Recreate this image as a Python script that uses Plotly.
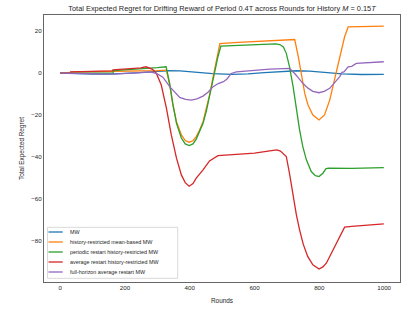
import plotly.graph_objects as go

# ---------------- data ----------------
names = [
    "MW",
    "history-restricted mean-based MW",
    "periodic restart history-restricted MW",
    "average restart history-restricted MW",
    "full-horizon average restart MW",
]
colors = ["#1f77b4", "#ff7f0e", "#2ca02c", "#d62728", "#9467bd"]

mw_x = [0, 50, 100, 150, 200, 250, 300, 330, 370, 420, 470, 530, 580, 630, 680, 730, 770, 820, 870, 930, 999]
mw_y = [0, -0.3, -0.5, -0.5, -0.3, 0.2, 0.8, 1.1, 1.0, 0.4, -0.3, -0.6, -0.4, 0.2, 0.8, 1.1, 0.9, 0.2, -0.4, -0.7, -0.6]

hr_x = [0, 30, 35, 100, 200, 300, 328, 338, 348, 359, 374, 386, 398, 410, 420, 430, 441, 451, 461, 470, 477, 487, 493,
        550, 600, 650, 700, 724, 735, 745, 755, 765, 780, 799, 816, 832, 847, 863, 878, 889, 950, 999]
hr_y = [0, 0.1, 0.5, 0.6, 0.9, 1.2, 1.4, -5.7, -15.2, -23.2, -29.5, -32.2, -33.0, -32.3, -30.3, -27.3, -23.2, -17.5, -10.5,
        -3.5, 2.2, 8.6, 14.1, 14.6, 15.0, 15.4, 15.8, 16.0, 7.8, -1.7, -9.7, -15.2, -20.0, -22.4, -20.0, -12.9, -3.3, 7.8,
        17.3, 22.0, 22.2, 22.4]

pr_x = [0, 163, 165, 200, 250, 300, 327, 338, 348, 359, 374, 386, 398, 410, 420, 430, 441, 451, 461, 470, 477, 487, 496,
        550, 600, 647, 665, 678, 689, 698, 708, 719, 729, 739, 749, 760, 775, 788, 799, 811, 820, 827, 900, 960, 999]
pr_y = [0, 0, 1.2, 1.5, 2.0, 2.6, 3.0, -5.0, -15.0, -24.0, -31.0, -33.8, -34.6, -33.8, -31.5, -28.3, -24.0, -18.3, -11.2,
        -4.0, 1.5, 7.8, 12.9, 13.2, 13.4, 13.8, 13.9, 13.6, 12.5, 9.4, 3.0, -6.5, -17.6, -27.1, -35.1, -41.4, -47.0, -49.0,
        -49.4, -47.8, -45.7, -45.4, -45.5, -45.4, -45.1]

ar_x = [0, 30, 32, 100, 160, 163, 200, 249, 265, 276, 285, 297, 312, 328, 343, 359, 374, 386, 398, 410, 420, 441, 461,
        487, 554, 600, 647, 669, 680, 690, 698, 708, 719, 729, 739, 750, 764, 780, 799, 811, 822, 837, 852, 860, 868, 878,
        900, 950, 999]
ar_y = [0, 0, 0.6, 0.8, 1.0, 1.5, 1.8, 2.5, 3.0, 2.5, 1.8, -0.2, -5.7, -16.8, -29.5, -40.6, -48.6, -52.3, -54.0, -52.7,
        -50.1, -46.2, -41.9, -39.4, -38.7, -38.2, -37.1, -36.7, -37.2, -38.5, -39.8, -48.0, -58.9, -67.5, -74.8, -81.5,
        -87.5, -91.5, -93.5, -92.5, -90.6, -86.0, -81.1, -79.0, -76.3, -73.5, -73.2, -72.6, -72.0]

fh_x = [0, 80, 163, 220, 277, 297, 317, 338, 355, 369, 387, 405, 422, 441, 457, 472, 488, 504, 515, 528, 544, 585, 647,
        708, 716, 724, 736, 749, 765, 780, 799, 815, 832, 848, 863, 870, 876, 889, 900, 914, 950, 999]
fh_y = [0, -0.3, -0.5, 0.0, 0.6, -0.2, -2.0, -6.5, -9.5, -11.6, -12.6, -12.9, -12.3, -11.0, -9.0, -6.5, -5.0, -4.1, -2.8,
        -0.2, 0.6, 1.1, 1.9, 2.2, 1.2, -0.2, -2.4, -4.9, -7.2, -8.7, -9.4, -8.7, -7.3, -4.5, -1.7, 0.3, 0.5, 3.0, 3.2, 4.6,
        4.9, 5.4]

series_x = [mw_x, hr_x, pr_x, ar_x, fh_x]
series_y = [mw_y, hr_y, pr_y, ar_y, fh_y]

x_ticks = [0, 200, 400, 600, 800, 1000]
y_ticks = [-80, -60, -40, -20, 0, 20]

title_text = ("Total Expected Regret for Drifting Reward of Period 0.4T across Rounds "
              "for History <i>M</i> = 0.15<i>T</i>")

# ---------------- figure ----------------
W, H = 415, 310
ML, MR, MT, MB = 44, 15, 15, 28
FONT = "Liberation Sans, Arial, sans-serif"
TXT = "#262626"

fig = go.Figure()
for xs, ys, nm, c in zip(series_x, series_y, names, colors):
    fig.add_trace(go.Scatter(x=xs, y=ys, mode="lines", name=nm,
                             line=dict(color=c, width=1.3), showlegend=False,
                             hoverinfo="skip"))

fig.update_layout(
    width=W, height=H,
    margin=dict(l=ML, r=MR, t=MT, b=MB, autoexpand=False),
    plot_bgcolor="white", paper_bgcolor="white",
    font=dict(family=FONT, color=TXT, size=6),
    title=dict(text=title_text, x=(ML + (W - MR)) / 2 / W, xanchor="center",
               y=1 - 8 / H, yanchor="middle", yref="container",
               font=dict(size=7.4, color=TXT, family=FONT)),
)
fig.update_xaxes(range=[-50, 1049], tickvals=x_ticks, showgrid=False, zeroline=False,
                 showline=True, mirror=True, linecolor="#666", linewidth=1,
                 ticks="", tickfont=dict(size=6.2, color=TXT), automargin=False,
                 title=dict(text="Rounds", font=dict(size=6.4, color=TXT), standoff=8))
fig.update_yaxes(range=[-99.7, 27.7], tickvals=y_ticks, showgrid=False, zeroline=False,
                 showline=True, mirror=True, linecolor="#666", linewidth=1,
                 ticks="", tickfont=dict(size=6.2, color=TXT), automargin=False,
                 title=dict(text="Total Expected Regret", font=dict(size=6.4, color=TXT), standoff=6))

# ---------------- manual legend (matplotlib-like compact box) ----------------
pw, ph = W - ML - MR, H - MT - MB


def px_to_paper(px, py):
    return (px - ML) / pw, (H - MB - py) / ph


bx0, by0 = px_to_paper(47.5, 278.3)
bx1, by1 = px_to_paper(177.7, 227.3)
fig.add_shape(type="rect", xref="paper", yref="paper", x0=bx0, y0=by0, x1=bx1, y1=by1,
              line=dict(color="#d9d9d9", width=1), fillcolor="rgba(255,255,255,0.8)", layer="above")
item_y = [232, 242, 252, 262, 272]
for nm, c, iy in zip(names, colors, item_y):
    lx0, ly = px_to_paper(48.5, iy)
    lx1, _ = px_to_paper(62.7, iy)
    fig.add_shape(type="line", xref="paper", yref="paper", x0=lx0, x1=lx1, y0=ly, y1=ly,
                  line=dict(color=c, width=1.3), layer="above")
    tx, _ = px_to_paper(67.5, iy)
    fig.add_annotation(x=tx, y=ly, xref="paper", yref="paper", text=nm, showarrow=False,
                       xanchor="left", yanchor="middle", font=dict(size=5.4, color=TXT, family=FONT))

fig.write_html("out.html", config={"displayModeBar": False, "staticPlot": True},
               post_script="document.body.style.margin='0';")
